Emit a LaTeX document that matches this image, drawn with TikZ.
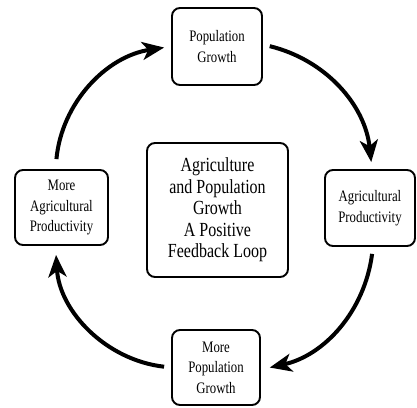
\documentclass[tikz,border=0pt]{standalone}
\usepackage{fontspec}
\setmainfont[FakeStretch=0.8]{Liberation Serif}
\usetikzlibrary{arrows.meta}

\begin{document}
\begin{tikzpicture}[x=1pt,y=1pt,
  box/.style={draw, line width=1.9pt, rounded corners=8pt, align=center, inner sep=0pt,
    font=\fontsize{16}{20.5}\selectfont},
  loop/.style={line width=4pt, -{Stealth[length=22pt,width=18pt,inset=6pt]}, shorten <=7pt}]
\useasboundingbox (0,0) rectangle (417,407);
% the four stages
\node[box, minimum width=90pt, minimum height=77pt] (pg) at (217,360.5) {Population\\Growth};
\node[box, minimum width=90pt, minimum height=76pt] (ap) at (370,199) {Agricultural\\Productivity};
\node[box, minimum width=88pt, minimum height=75pt] (mpg) at (216,39.5) {More\\Population\\Growth};
\node[box, minimum width=93pt, minimum height=75pt] (map) at (61.5,199.5) {More\\Agricultural\\Productivity};
% title in the middle
\node[box, minimum width=141pt, minimum height=134pt, font=\fontsize{20}{21.5}\selectfont]
  (loopttl) at (217.5,197) {Agriculture\\and Population\\Growth\\A Positive\\Feedback Loop};
% the loop
\draw[loop, shorten >=7pt] ([yshift=2pt]pg.east) to[bend left=35] ([xshift=2pt]ap.north);
\draw[loop, shorten >=9pt] ([xshift=3pt]ap.south) to[bend left=35] ([yshift=-2pt]mpg.east);
\draw[loop, shorten >=9pt] (mpg.west) to[bend left=40] ([xshift=-6pt]map.south);
\draw[loop, shorten <=10pt, shorten >=7pt] ([xshift=-6pt]map.north) to[bend left=38] (pg.west);
\end{tikzpicture}
\end{document}
